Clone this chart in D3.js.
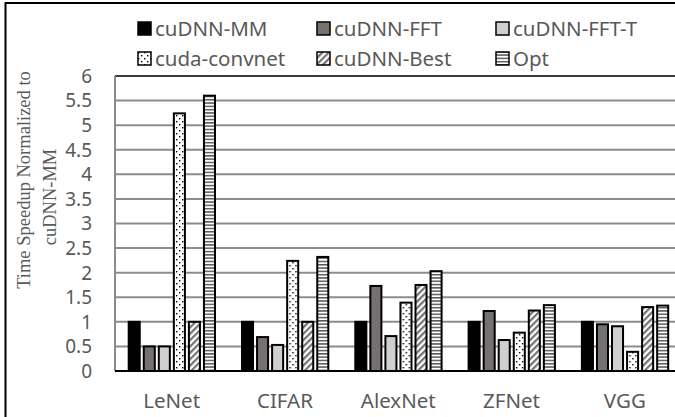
<!DOCTYPE html>
<html>
<head>
<meta charset="utf-8">
<script src="https://cdn.jsdelivr.net/npm/d3@7"></script>
<style>
  body { margin: 0; background: #fff; }
  svg text { font-family: "Noto Sans", "Open Sans", sans-serif; fill: #595959; }
  svg text.serif { font-family: "Liberation Serif", "Times New Roman", serif; }
</style>
</head>
<body>
<div id="chart"></div>
<script>
const categories = ["LeNet", "CIFAR", "AlexNet", "ZFNet", "VGG"];
const series = ["cuDNN-MM", "cuDNN-FFT", "cuDNN-FFT-T", "cuda-convnet", "cuDNN-Best", "Opt"];
const mmValues      = [1, 1, 1, 1, 1];
const fftValues     = [0.5, 0.69, 1.73, 1.22, 0.95];
const fftTValues    = [0.5, 0.53, 0.71, 0.63, 0.91];
const convnetValues = [5.24, 2.24, 1.39, 0.78, 0.39];
const bestValues    = [1, 1, 1.75, 1.23, 1.3];
const optValues     = [5.6, 2.32, 2.03, 1.34, 1.33];
const yTicks = [0, 0.5, 1, 1.5, 2, 2.5, 3, 3.5, 4, 4.5, 5, 5.5, 6];

const valuesBySeries = [mmValues, fftValues, fftTValues, convnetValues, bestValues, optValues];
const fills = ["#000", "#767171", "#d0cece", "url(#dots)", "url(#hatch)", "url(#stripes)"];

const W = 675, H = 417;
const svg = d3.select("#chart").append("svg")
    .attr("width", W).attr("height", H);

const defs = svg.append("defs");
const dots = defs.append("pattern").attr("id", "dots")
    .attr("patternUnits", "userSpaceOnUse").attr("width", 6).attr("height", 6);
dots.append("rect").attr("width", 6).attr("height", 6).attr("fill", "#fff");
dots.append("rect").attr("x", 1).attr("y", 1).attr("width", 1.4).attr("height", 1.4).attr("fill", "#000");
dots.append("rect").attr("x", 4).attr("y", 4).attr("width", 1.4).attr("height", 1.4).attr("fill", "#000");

const hatch = defs.append("pattern").attr("id", "hatch")
    .attr("patternUnits", "userSpaceOnUse").attr("width", 4.5).attr("height", 4.5)
    .attr("patternTransform", "rotate(45)");
hatch.append("rect").attr("width", 4.5).attr("height", 4.5).attr("fill", "#fff");
hatch.append("rect").attr("width", 2.2).attr("height", 4.5).attr("fill", "#767171");

const stripes = defs.append("pattern").attr("id", "stripes")
    .attr("patternUnits", "userSpaceOnUse").attr("width", 6).attr("height", 3.3);
stripes.append("rect").attr("width", 6).attr("height", 3.3).attr("fill", "#fff");
stripes.append("rect").attr("y", 0).attr("width", 6).attr("height", 1.5).attr("fill", "#595959");

// outer frame
svg.append("rect").attr("x", 5.5).attr("y", 3).attr("width", 700).attr("height", 440)
    .attr("fill", "none").attr("stroke", "#000").attr("stroke-width", 2);

const plotLeft = 115, plotRight = 681.5, yTop = 76, yBottom = 371;

const x0 = d3.scaleBand().domain(categories).range([plotLeft, plotRight]);
const x1 = d3.scaleBand().domain(series)
    .range([12.7, x0.bandwidth() - 12.3]).paddingInner(0.133);
const y = d3.scaleLinear().domain([0, 6]).range([yBottom, yTop]);

// gridlines
svg.append("g").selectAll("line").data(yTicks.filter(t => t > 0 && t < 6)).join("line")
    .attr("x1", plotLeft).attr("x2", W)
    .attr("y1", d => y(d)).attr("y2", d => y(d))
    .attr("stroke", "#8c8c8c").attr("stroke-width", 2);
svg.append("line").attr("x1", plotLeft).attr("x2", W).attr("y1", y(6)).attr("y2", y(6))
    .attr("stroke", "#3a3a3a").attr("stroke-width", 2);
svg.append("line").attr("x1", plotLeft).attr("x2", plotLeft).attr("y1", y(6)).attr("y2", y(0))
    .attr("stroke", "#8c8c8c").attr("stroke-width", 2);

// y tick labels
svg.append("g").selectAll("text").data(yTicks).join("text")
    .attr("x", 92).attr("y", d => y(d)).attr("dy", "0.36em")
    .attr("text-anchor", "end").attr("font-size", 19)
    .text(d => d);

// y title, two lines
svg.append("text").attr("class", "serif")
    .attr("transform", "translate(30,180) rotate(-90)")
    .attr("text-anchor", "middle").attr("font-size", 18.5)
    .text("Time Speedup Normalized  to");
svg.append("text").attr("class", "serif")
    .attr("transform", "translate(56,197) rotate(-90)")
    .attr("text-anchor", "middle").attr("font-size", 18.5)
    .text("cuDNN-MM");

// bars
const groups = svg.append("g").selectAll("g").data(categories).join("g")
    .attr("transform", d => `translate(${x0(d)},0)`);
groups.selectAll("rect")
    .data((c, ci) => series.map((s, si) => ({ s, si, v: valuesBySeries[si][ci] })))
    .join("rect")
    .attr("x", d => x1(d.s) + 1)
    .attr("width", x1.bandwidth() - 2)
    .attr("y", d => y(d.v))
    .attr("height", d => y(0) - y(d.v))
    .attr("fill", d => fills[d.si])
    .attr("stroke", "#000").attr("stroke-width", 2);

// x axis line
svg.append("line").attr("x1", plotLeft).attr("x2", W).attr("y1", y(0)).attr("y2", y(0))
    .attr("stroke", "#000").attr("stroke-width", 2);

// x labels
svg.append("g").selectAll("text").data(categories).join("text")
    .attr("x", d => x0(d) + x0.bandwidth() / 2).attr("y", 408)
    .attr("text-anchor", "middle").attr("font-size", 20.5)
    .text(d => d);

// legend
const legendX = [137, 316, 495];
const legendY = [21, 51];
const legend = svg.append("g").selectAll("g").data(series).join("g")
    .attr("transform", (d, i) => `translate(${legendX[i % 3]},${legendY[Math.floor(i / 3)]})`);
legend.append("rect").attr("x", 1).attr("y", 1).attr("width", 13).attr("height", 13)
    .attr("fill", (d, i) => fills[i]).attr("stroke", "#000").attr("stroke-width", 1.5);
legend.append("text").attr("x", 18).attr("y", 14.5).attr("font-size", 20.5)
    .text(d => d);
</script>
</body>
</html>
